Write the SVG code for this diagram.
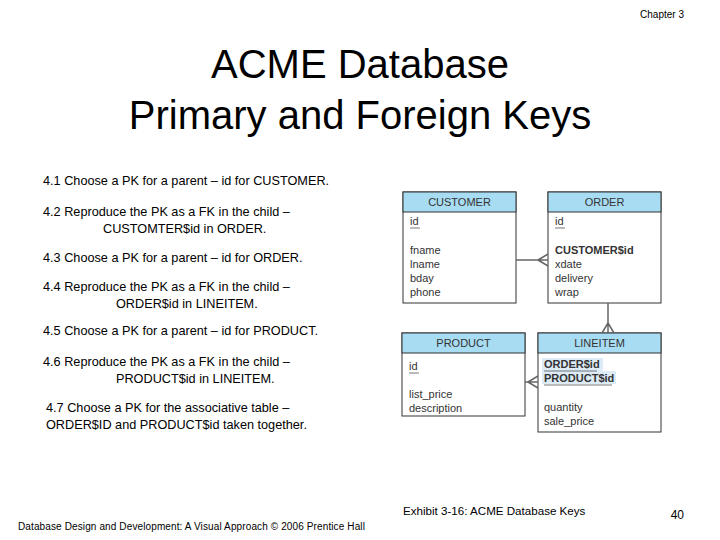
<svg xmlns="http://www.w3.org/2000/svg" width="720" height="540" viewBox="0 0 720 540">
<style>
text{font-family:"Liberation Sans",Arial,sans-serif;fill:#000}
.b{fill:#fff;stroke:#333;stroke-width:1}
.h{fill:#a8dcf2;stroke:#333;stroke-width:1}
.t{font-size:11px;fill:#333}
.ht{font-size:11px;fill:#333;text-anchor:middle}
.n{font-size:12.7px}
.c{stroke:#666;stroke-width:1.5;fill:none}
.u{stroke:#555;stroke-width:0.8}
</style>
<rect width="720" height="540" fill="#fff"/>
<text x="684" y="18" font-size="10" text-anchor="end">Chapter 3</text>
<text x="360" y="78" font-size="40" text-anchor="middle">ACME Database</text>
<text x="360" y="129" font-size="40" text-anchor="middle">Primary and Foreign Keys</text>
<g id="steps">
<text class="n" x="43" y="185">4.1 Choose a PK for a parent – id for CUSTOMER.</text>
<text class="n" x="43" y="216">4.2 Reproduce the PK as a FK in the child –</text>
<text class="n" x="103" y="233">CUSTOMTER$id in ORDER.</text>
<text class="n" x="43" y="262">4.3 Choose a PK for a parent – id for ORDER.</text>
<text class="n" x="43" y="291">4.4 Reproduce the PK as a FK in the child –</text>
<text class="n" x="116" y="308">ORDER$id in LINEITEM.</text>
<text class="n" x="43" y="335">4.5 Choose a PK for a parent – id for PRODUCT.</text>
<text class="n" x="43" y="366">4.6 Reproduce the PK as a FK in the child –</text>
<text class="n" x="116" y="383">PRODUCT$id in LINEITEM.</text>
<text class="n" x="46" y="412">4.7 Choose a PK for the associative table –</text>
<text class="n" x="46" y="429">ORDER$ID and PRODUCT$id taken together.</text>
</g>
<g id="customer">
<rect class="b" x="403" y="192" width="113" height="111"/>
<rect class="h" x="403" y="192" width="113" height="20"/>
<text class="ht" x="459.5" y="206">CUSTOMER</text>
<text class="t" x="410" y="225">id</text><line class="u" x1="410" y1="228" x2="420" y2="228"/>
<text class="t" x="410" y="254">fname</text>
<text class="t" x="410" y="268">lname</text>
<text class="t" x="410" y="282">bday</text>
<text class="t" x="410" y="296">phone</text>
</g>
<g id="order">
<rect class="b" x="548" y="192" width="113" height="111"/>
<rect class="h" x="548" y="192" width="113" height="20"/>
<text class="ht" x="604.5" y="206">ORDER</text>
<text class="t" x="555" y="225">id</text><line class="u" x1="555" y1="228" x2="565" y2="228"/>
<text class="t" x="555" y="254" font-weight="bold">CUSTOMER$id</text>
<text class="t" x="555" y="268">xdate</text>
<text class="t" x="555" y="282">delivery</text>
<text class="t" x="555" y="296">wrap</text>
</g>
<g id="product">
<rect class="b" x="402" y="333" width="123" height="83"/>
<rect class="h" x="402" y="333" width="123" height="20"/>
<text class="ht" x="463.5" y="347">PRODUCT</text>
<text class="t" x="409" y="370">id</text><line class="u" x1="409" y1="373" x2="419" y2="373"/>
<text class="t" x="409" y="398">list_price</text>
<text class="t" x="409" y="412">description</text>
</g>
<g id="lineitem">
<rect class="b" x="538" y="333" width="123" height="99"/>
<rect class="h" x="538" y="333" width="123" height="20"/>
<text class="ht" x="599.5" y="347">LINEITEM</text>
<rect x="542" y="358" width="61" height="13" fill="#dcebf5"/>
<rect x="542" y="371" width="74" height="13" fill="#dcebf5"/>
<text class="t" x="544" y="368" font-weight="bold">ORDER$id</text>
<line class="u" x1="544" y1="371" x2="597" y2="371"/>
<text class="t" x="544" y="382" font-weight="bold">PRODUCT$id</text>
<line class="u" x1="544" y1="385" x2="612" y2="385"/>
<text class="t" x="544" y="411">quantity</text>
<text class="t" x="544" y="425">sale_price</text>
</g>
<g id="connectors">
<path class="c" d="M516 260H548 M538 260L548 254 M538 260L548 266"/>
<path class="c" d="M608 303V333 M608 323L602 333 M608 323L614 333" stroke-width="1.2"/>
<path class="c" d="M525 382H538 M528 382L538 376 M528 382L538 388" stroke-width="1.2"/>
</g>
<text x="403" y="515" font-size="11.6">Exhibit 3-16: ACME Database Keys</text>
<text x="18" y="530" font-size="10" letter-spacing="0.12">Database Design and Development: A Visual Approach   © 2006 Prentice Hall</text>
<text x="684" y="519" font-size="12" text-anchor="end">40</text>
</svg>
